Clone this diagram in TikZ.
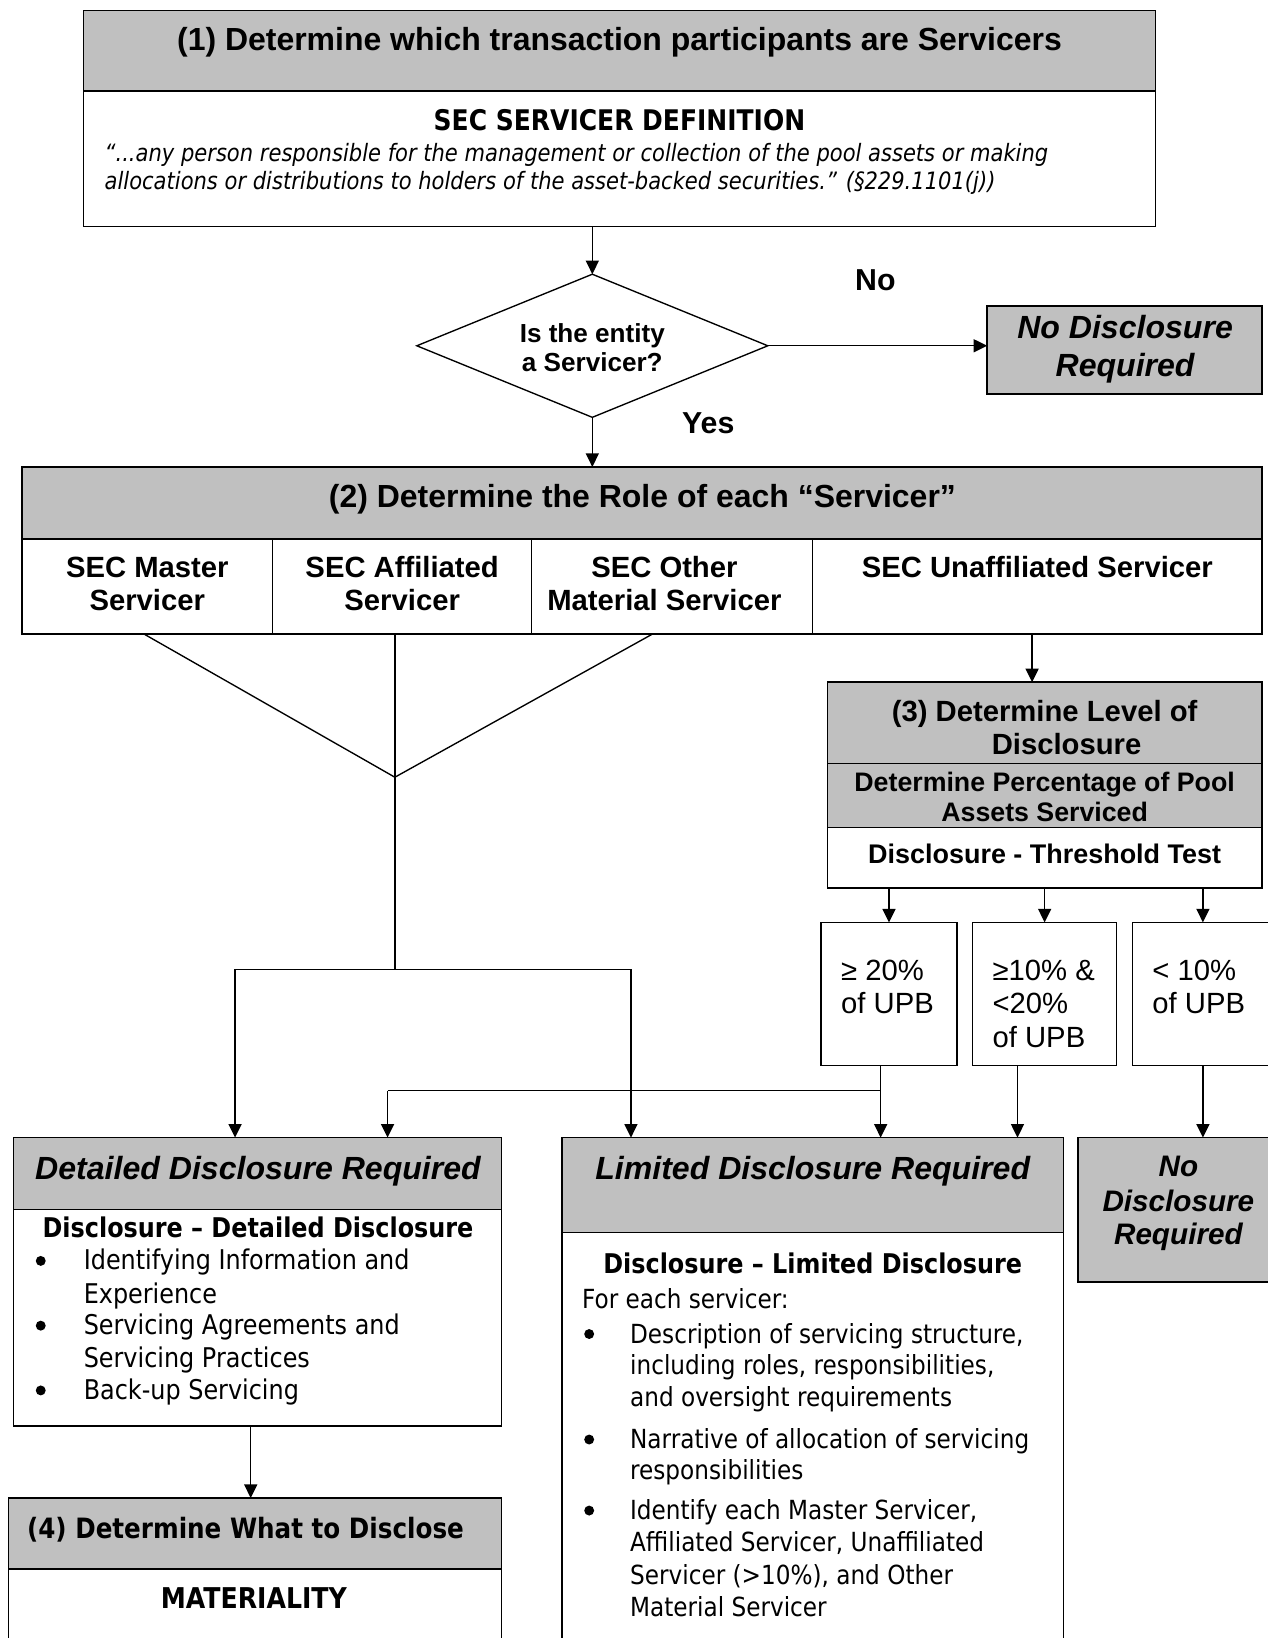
\documentclass[tikz,border=0pt]{standalone}
\usepackage{fontspec}
\setmainfont{Liberation Sans}
\newfontfamily\tah[FakeStretch=0.88]{DejaVu Sans}
\usetikzlibrary{shapes.geometric,arrows.meta,calc}
\definecolor{hdr}{RGB}{192,192,192}
\begin{document}
\begin{tikzpicture}[x=1pt,y=-1pt,
  bx/.style={draw=black, line width=1.4pt, inner sep=0pt, outer sep=0pt, anchor=north west, fill=white},
  gbx/.style={bx, fill=hdr},
  ln/.style={line width=1.3pt},
  arr/.style={ln, -{Triangle[length=13pt,width=12.5pt]}},
  tx/.style={inner sep=0pt, anchor=mid, text=black, yshift=-7pt},
  txl/.style={inner sep=0pt, anchor=mid west, text=black, yshift=-7pt},
  bul/.style={circle, fill=black, inner sep=0pt, minimum size=9.5pt},
  hd/.style={font=\fontsize{30.6}{36}\selectfont\bfseries},
  hdi/.style={font=\fontsize{30.7}{37}\selectfont\bfseries\itshape},
  colt/.style={font=\fontsize{28}{32}\selectfont\bfseries},
  tb/.style={font=\tah\fontsize{26}{30}\selectfont\bfseries},
  tr/.style={font=\tah\fontsize{26}{30}\selectfont},
  tl/.style={font=\tah\fontsize{25.2}{30}\selectfont},
  pc/.style={font=\fontsize{28}{32}\selectfont},
]
\useasboundingbox (0,0) rectangle (1213,1568);
\fill[white] (0,0) rectangle (1213,1568);

% ---- Box 1
\node[gbx, minimum width=1026pt, minimum height=77pt] (b1h) at (80,10) {};
\node[bx, minimum width=1026pt, minimum height=130pt] (b1b) at (80,87) {};
\node[tx, hd] (t1) at (593,39) {(1) Determine which transaction participants are Servicers};
\node[tx, font=\tah\fontsize{27.2}{30}\selectfont\bfseries] (t2) at (593,115) {SEC SERVICER DEFINITION};
\node[txl, font=\tah\fontsize{22.9}{27}\selectfont\itshape] (t3) at (100,145) {“...any person responsible for the management or collection of the pool assets or making};
\node[txl, font=\tah\fontsize{22.9}{27}\selectfont\itshape] (t4) at (100,172) {allocations or distributions to holders of the asset-backed securities.” (§229.1101(j))};

% ---- Decision
\node[draw=black, line width=1.3pt, diamond, inner sep=0pt, outer sep=0pt, minimum width=336pt, minimum height=137pt, fill=white] (dia) at (567,331) {};
\node[tx, font=\fontsize{25}{28}\selectfont\bfseries] (t5) at (567,318) {Is the entity};
\node[tx, font=\fontsize{25}{28}\selectfont\bfseries] (t6) at (567,346) {a Servicer?};
\node[tx, font=\fontsize{29}{33}\selectfont\bfseries] (tno) at (838,268) {No};
\node[tx, font=\fontsize{29}{33}\selectfont\bfseries] (tyes) at (678,405) {Yes};

\node[gbx, minimum width=263pt, minimum height=84pt] (nod1) at (945,293) {};
\node[tx, hdi] (t7) at (1077,314) {No Disclosure};
\node[tx, hdi] (t8) at (1077,351) {Required};

% ---- Box 2
\node[gbx, minimum width=1187pt, minimum height=69pt] (b2h) at (21,447) {};
\node[tx, hd] (t9) at (615,476) {(2) Determine the Role of each “Servicer”};
\node[bx, minimum width=240pt, minimum height=91pt] (c1) at (21,516) {};
\node[bx, minimum width=248pt, minimum height=91pt] (c2) at (261,516) {};
\node[bx, minimum width=269pt, minimum height=91pt] (c3) at (509,516) {};
\node[bx, minimum width=430pt, minimum height=91pt] (c4) at (778,516) {};
\node[tx, colt] (t10) at (141,543) {SEC Master};
\node[tx, colt] (t11) at (141,575) {Servicer};
\node[tx, colt] (t12) at (385,543) {SEC Affiliated};
\node[tx, colt] (t13) at (385,575) {Servicer};
\node[tx, colt] (t14) at (636,543) {SEC Other};
\node[tx, colt] (t15) at (636,575) {Material Servicer};
\node[tx, colt] (t16) at (993,543) {SEC Unaffiliated Servicer};

% ---- Box 3
\node[gbx, minimum width=416pt, minimum height=78pt] (b3h) at (792,653) {};
\node[gbx, minimum width=416pt, minimum height=61pt] (b3m) at (792,731) {};
\node[bx, minimum width=416pt, minimum height=58pt] (b3b) at (792,792) {};
\node[tx, colt] (t17) at (1000,681) {(3) Determine Level of};
\node[tx, colt] (t18) at (1021,713) {Disclosure};
\node[tx, font=\fontsize{25.6}{29}\selectfont\bfseries] (t19) at (1000,748) {Determine Percentage of Pool};
\node[tx, font=\fontsize{25.6}{29}\selectfont\bfseries] (t20) at (1000,777) {Assets Serviced};
\node[tx, font=\fontsize{25.8}{29}\selectfont\bfseries] (t21) at (1000,817) {Disclosure - Threshold Test};

% ---- Percent boxes
\node[bx, minimum width=130pt, minimum height=137pt] (p1) at (786,883) {};
\node[bx, minimum width=138pt, minimum height=137pt] (p2) at (931,883) {};
\node[bx, minimum width=135pt, minimum height=137pt] (p3) at (1084,883) {};
\node[txl, pc] (t22) at (805,929) {≥ 20\%};
\node[txl, pc] (t23) at (805,961) {of UPB};
\node[txl, pc] (t24) at (950,929) {≥10\% \&};
\node[txl, pc] (t25) at (950,961) {<20\%};
\node[txl, pc] (t26) at (950,993) {of UPB};
\node[txl, pc] (t27) at (1103,929) {< 10\%};
\node[txl, pc] (t28) at (1103,961) {of UPB};

% ---- Detailed
\node[gbx, minimum width=467pt, minimum height=69pt] (deth) at (13,1089) {};
\node[bx, minimum width=467pt, minimum height=207pt] (detb) at (13,1158) {};
\node[tx, hdi] (t29) at (247,1119) {Detailed Disclosure Required};
\node[tx, tb] (t30) at (247,1175) {Disclosure – Detailed Disclosure};
\node[txl, tr] (t31) at (80,1206) {Identifying Information and};
\node[txl, tr] (t32) at (80,1238) {Experience};
\node[txl, tr] (t33) at (80,1268) {Servicing Agreements and};
\node[txl, tr] (t34) at (80,1299) {Servicing Practices};
\node[txl, tr] (t35) at (80,1330) {Back-up Servicing};
\node[bul] (bu1) at ([yshift=6pt]t31.mid -| 39,0) {};
\node[bul] (bu2) at ([yshift=6pt]t33.mid -| 39,0) {};
\node[bul] (bu3) at ([yshift=6pt]t35.mid -| 39,0) {};

% ---- Box 4
\node[gbx, minimum width=472pt, minimum height=68pt] (b4h) at (8,1434) {};
\node[bx, minimum width=472pt, minimum height=120pt] (b4b) at (8,1502) {};
\node[tx, font=\tah\fontsize{26.8}{32}\selectfont\bfseries] (t36) at (235,1463) {(4) Determine What to Disclose};
\node[tx, font=\tah\fontsize{27.4}{30}\selectfont\bfseries] (t37) at (243,1530) {MATERIALITY};

% ---- Limited
\node[gbx, minimum width=480pt, minimum height=91pt] (limh) at (538,1089) {};
\node[bx, minimum width=480pt, minimum height=420pt] (limb) at (538,1180) {};
\node[tx, hdi] (t38) at (778,1119) {Limited Disclosure Required};
\node[tx, tb] (t39) at (778,1209) {Disclosure – Limited Disclosure};
\node[txl, tl] (t40) at (557,1243) {For each servicer:};
\node[txl, tl] (t41) at (603,1276) {Description of servicing structure,};
\node[txl, tl] (t42) at (603,1306) {including roles, responsibilities,};
\node[txl, tl] (t43) at (603,1337) {and oversight requirements};
\node[txl, tl] (t44) at (603,1377) {Narrative of allocation of servicing};
\node[txl, tl] (t45) at (603,1407) {responsibilities};
\node[txl, tl] (t46) at (603,1445) {Identify each Master Servicer,};
\node[txl, tl] (t47) at (603,1476) {Affiliated Servicer, Unaffiliated};
\node[txl, tl] (t48) at (603,1507) {Servicer (>10\%), and Other};
\node[txl, tl] (t49) at (603,1538) {Material Servicer};
\node[bul] (bu4) at ([yshift=6pt]t41.mid -| 564,0) {};
\node[bul] (bu5) at ([yshift=6pt]t44.mid -| 564,0) {};
\node[bul] (bu6) at ([yshift=6pt]t46.mid -| 564,0) {};

% ---- No disclosure 2
\node[gbx, minimum width=183pt, minimum height=138pt] (nod2) at (1032,1089) {};
\node[tx, font=\fontsize{28.4}{33}\selectfont\bfseries\itshape] (t50) at (1128,1117) {No};
\node[tx, font=\fontsize{28.4}{33}\selectfont\bfseries\itshape] (t51) at (1128,1150) {Disclosure};
\node[tx, font=\fontsize{28.4}{33}\selectfont\bfseries\itshape] (t52) at (1128,1182) {Required};

% ---- Connectors
\draw[arr] (b1b.south -| dia.north) -- (dia.north);
\draw[arr] (dia.east) -- (dia.east -| nod1.west);
\draw[arr] (dia.south) -- (b2h.north -| dia.south);

\coordinate (j) at ($(c2.south)+(-7,137)$);
\coordinate (k) at ($(c2.south)+(-7,321)$);
\coordinate (kl) at (225,928);
\coordinate (kr) at (604,928);
\draw[ln] ([xshift=-3pt]c1.south) -- (j);
\draw[ln] ([xshift=-19pt]c3.south) -- (j);
\draw[ln] (j |- c2.south) -- (k);
\draw[ln] (kl) -- (kr);
\draw[arr] (kl) -- (kl |- deth.north);
\draw[arr] (kr) -- (kr |- limh.north);

\draw[arr] ([xshift=-5pt]c4.south) -- ([xshift=-5pt]c4.south |- b3h.north);
\draw[arr] (b3b.south -| p1.north) -- (p1.north);
\draw[arr] (b3b.south -| p2.north) -- (p2.north);
\draw[arr] (b3b.south -| p3.north) -- (p3.north);

\coordinate (m) at ($(p1.south)+(-8,24)$);
\coordinate (ml) at (371,1044);
\draw[ln] ([xshift=-8pt]p1.south) -- (m) -- (ml);
\draw[arr] (ml) -- (ml |- deth.north);
\draw[arr] (m) -- (m |- limh.north);
\draw[arr] ([xshift=-26pt]p2.south) -- ([xshift=-26pt]p2.south |- limh.north);
\draw[arr] (p3.south) -- (p3.south |- nod2.north);
\draw[arr] (detb.south -| 240,0) -- (b4h.north -| 240,0);
\end{tikzpicture}
\end{document}
